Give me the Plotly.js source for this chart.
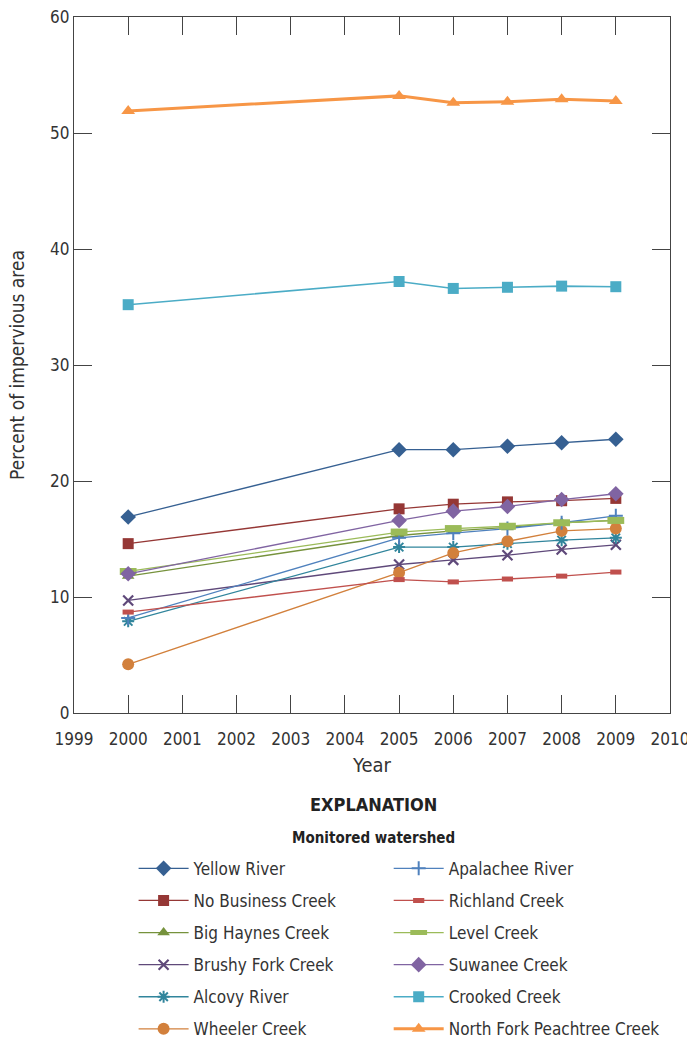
<!DOCTYPE html>
<html>
<head>
<meta charset="utf-8">
<script src="https://cdn.plot.ly/plotly-3.0.1.min.js"></script>
<style>html,body{margin:0;padding:0;background:#fff;}#chart{width:687px;height:1038px;}</style>
</head>
<body>
<div id="chart"></div>
<script>
const years = [2000, 2005, 2006, 2007, 2008, 2009];

const seriesNames = [
  "Yellow River", "No Business Creek", "Big Haynes Creek", "Brushy Fork Creek", "Alcovy River", "Wheeler Creek",
  "Apalachee River", "Richland Creek", "Level Creek", "Suwanee Creek", "Crooked Creek", "North Fork Peachtree Creek"
];

const yellowRiver      = [16.9, 22.7, 22.7, 23.0, 23.3, 23.6];
const noBusinessCreek  = [14.6, 17.6, 18.0, 18.2, 18.3, 18.5];
const bigHaynesCreek   = [11.8, 15.3, 15.7, 16.0, 16.4, 16.6];
const brushyForkCreek  = [9.7, 12.8, 13.2, 13.6, 14.1, 14.5];
const alcovyRiver      = [7.9, 14.3, 14.3, 14.6, 14.9, 15.1];
const wheelerCreek     = [4.2, 12.1, 13.8, 14.8, 15.7, 15.9];
const apalacheeRiver   = [8.2, 15.1, 15.5, 15.9, 16.4, 17.0];
const richlandCreek    = [8.7, 11.5, 11.3, 11.55, 11.8, 12.15];
const levelCreek       = [12.2, 15.6, 15.9, 16.1, 16.4, 16.6];
const suwaneeCreek     = [12.0, 16.6, 17.4, 17.8, 18.4, 18.9];
const crookedCreek     = [35.2, 37.2, 36.6, 36.7, 36.8, 36.75];
const northForkPeachtreeCreek = [51.9, 53.2, 52.6, 52.7, 52.9, 52.75];

const values = [yellowRiver, noBusinessCreek, bigHaynesCreek, brushyForkCreek, alcovyRiver, wheelerCreek,
  apalacheeRiver, richlandCreek, levelCreek, suwaneeCreek, crookedCreek, northForkPeachtreeCreek];

const xTickVals = [1999, 2000, 2001, 2002, 2003, 2004, 2005, 2006, 2007, 2008, 2009, 2010];
const yTickVals = [0, 10, 20, 30, 40, 50, 60];

const styles = [
  {color:"#366092", symbol:"diamond", size:12, lw:1.3},
  {color:"#953735", symbol:"square", size:11, lw:1.3},
  {color:"#76923C", symbol:"triangle-up", size:11, lw:1.3},
  {color:"#5F497A", symbol:"x-thin-open", size:10, lw:1.3, mlw:2.2},
  {color:"#31859C", symbol:"asterisk-open", size:10, lw:1.3, mlw:2},
  {color:"#D2803C", symbol:"circle", size:12, lw:1.3},
  {color:"#4F81BD", symbol:"cross-thin-open", size:10, lw:1.3, mlw:2},
  {color:"#C0504D", symbol:"line-ew-open", size:8, lw:1.3, mlw:5},
  {color:"#9BBB59", symbol:"line-ew-open", size:12, lw:1.3, mlw:7},
  {color:"#8064A2", symbol:"diamond", size:12, lw:1.3},
  {color:"#4BACC6", symbol:"square", size:11, lw:1.6},
  {color:"#F79646", symbol:"triangle-up", size:12, lw:3}
];

const FONT = "'Liberation Sans Narrow', 'DejaVu Sans Condensed', 'Roboto Condensed', Roboto, sans-serif";

const traces = seriesNames.map((name, i) => {
  const s = styles[i];
  const marker = {symbol: s.symbol, size: s.size, color: s.color};
  if (s.mlw) marker.line = {color: s.color, width: s.mlw};
  return {
    x: years, y: values[i], name: name, type: "scatter", mode: "lines+markers",
    line: {color: s.color, width: s.lw},
    marker: marker,
    legend: i < 6 ? "legend" : "legend2",
    legendgroup: "g" + i,
    cliponaxis: false
  };
});

const legendCommon = {
  yanchor: "top", xanchor: "left",
  font: {family: FONT, size: 17, color: "#333"},
  bgcolor: "rgba(0,0,0,0)", tracegroupgap: 7, itemwidth: 50,
  traceorder: "grouped"
};

const layout = {
  width: 687, height: 1038,
  margin: {l: 74, r: 17, t: 17, b: 325, autoexpand: false},
  paper_bgcolor: "#fff", plot_bgcolor: "#fff",
  font: {family: FONT, size: 17, color: "#333"},
  xaxis: {
    range: [1999, 2010], tickvals: xTickVals, ticks: "inside", ticklen: 18, tickwidth: 1, tickcolor: "#444",
    showline: true, linecolor: "#444", linewidth: 1.2, mirror: "allticks", showgrid: false, zeroline: false,
    tickfont: {family: FONT, size: 17, color: "#333"}, ticklabelstandoff: 10, ticklabeloverflow: "allow",
    title: {text: "Year", font: {family: FONT, size: 20, color: "#333"}, standoff: 10}
  },
  yaxis: {
    range: [0, 60], tickvals: yTickVals, ticks: "inside", ticklen: 18, tickwidth: 1, tickcolor: "#444",
    showline: true, linecolor: "#444", linewidth: 1.2, mirror: "allticks", showgrid: false, zeroline: false,
    tickfont: {family: FONT, size: 17, color: "#333"},
    title: {text: "Percent of impervious area", font: {family: FONT, size: 19, color: "#333"}, standoff: 20}
  },
  showlegend: true,
  legend: Object.assign({x: 0.1, y: -0.198}, legendCommon),
  legend2: Object.assign({x: 0.528, y: -0.198}, legendCommon),
  annotations: [
    {text: "<b>EXPLANATION</b>", xref: "paper", yref: "paper", x: 0.502, y: -0.131, xanchor: "center", yanchor: "middle",
     showarrow: false, font: {family: FONT, size: 18, color: "#222"}},
    {text: "<b>Monitored watershed</b>", xref: "paper", yref: "paper", x: 0.502, y: -0.179, xanchor: "center", yanchor: "middle",
     showarrow: false, font: {family: FONT, size: 15, color: "#222"}}
  ]
};

Plotly.newPlot("chart", traces, layout, {displayModeBar: false, staticPlot: true});
</script>
</body>
</html>
